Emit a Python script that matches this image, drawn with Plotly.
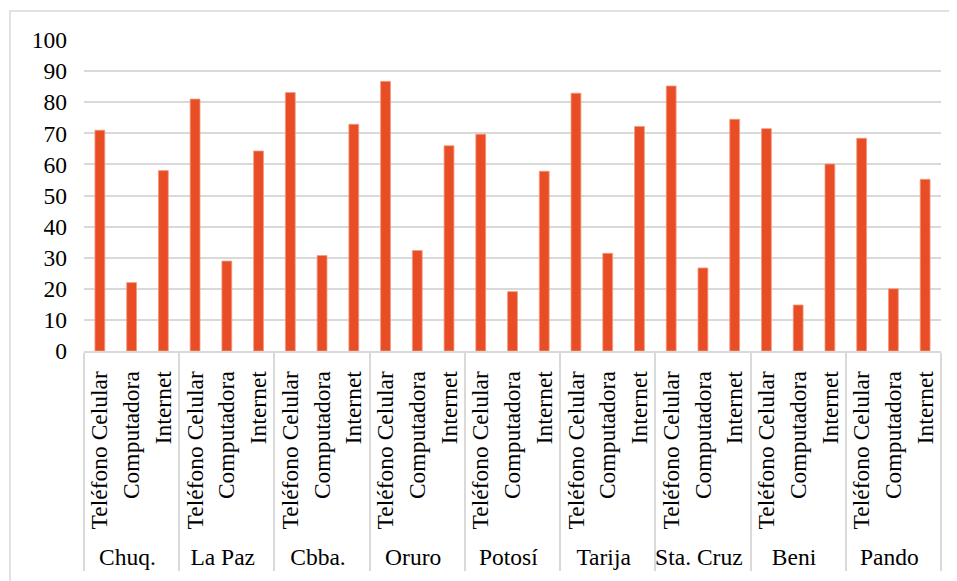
import plotly.graph_objects as go

regions = ["Chuq.", "La Paz", "Cbba.", "Oruro", "Potosí", "Tarija", "Sta. Cruz", "Beni", "Pando"]
items = ["Teléfono Celular", "Computadora", "Internet"]
telefono = [71.0, 81.0, 83.1, 86.7, 69.7, 82.9, 85.2, 71.5, 68.4]
computadora = [22.0, 28.9, 30.7, 32.3, 19.1, 31.4, 26.7, 14.8, 20.0]
internet = [58.0, 64.3, 72.9, 66.0, 57.8, 72.2, 74.5, 60.1, 55.2]

xs_outer, xs_inner, ys = [], [], []
for i, r in enumerate(regions):
    for it, vals in zip(items, [telefono, computadora, internet]):
        xs_outer.append(r)
        xs_inner.append(it)
        ys.append(vals[i])

FONT = "Liberation Serif"
FS = 23.5

fig = go.Figure(go.Bar(
    x=[xs_outer, xs_inner], y=ys,
    marker=dict(color="#E84D25", line=dict(color="#F19A80", width=0.8)),
    width=0.31,
))

# page body has an 8px margin, so the figure is offset by 8px
OFF = 8
W, H = 957 - OFF, 581 - OFF
L, R, T, B = 84 - OFF, 16, 40 - OFF, 581 - 351
pw, ph = W - L - R, H - T - B

def px(x):
    return (x - OFF - L) / pw

def py(y):
    return (H - B - (y - OFF)) / ph

fig.update_layout(
    width=W, height=H,
    margin=dict(l=L, r=R, t=T, b=B, autoexpand=False),
    paper_bgcolor="white", plot_bgcolor="white",
    font=dict(family=FONT, size=FS, color="#000000"),
    showlegend=False,
    bargap=0.69,
    xaxis=dict(
        type="multicategory",
        automargin=False,
        tickangle=-90,
        showdividers=True, dividercolor="#d9d9d9", dividerwidth=1.5,
        showline=True, linecolor="#d9d9d9", linewidth=1.5,
        ticks="", showgrid=False,
        ticklabelstandoff=9,
        tickfont=dict(family=FONT, size=FS, color="#000000"),
    ),
    yaxis=dict(
        automargin=False,
        range=[0, 100], dtick=10, tick0=0,
        showgrid=True, gridcolor="#d9d9d9", gridwidth=1.5,
        zeroline=False, showline=False, ticks="",
        tickfont=dict(family=FONT, size=FS, color="#000000"),
        ticklabelstandoff=16,
    ),
    shapes=[dict(type="rect", xref="paper", yref="paper",
                 x0=px(10), x1=px(970), y0=py(600), y1=py(11),
                 line=dict(color="#d9d9d9", width=1.5), fillcolor="rgba(0,0,0,0)", layer="below")],
)

fig.write_html("out.html")
